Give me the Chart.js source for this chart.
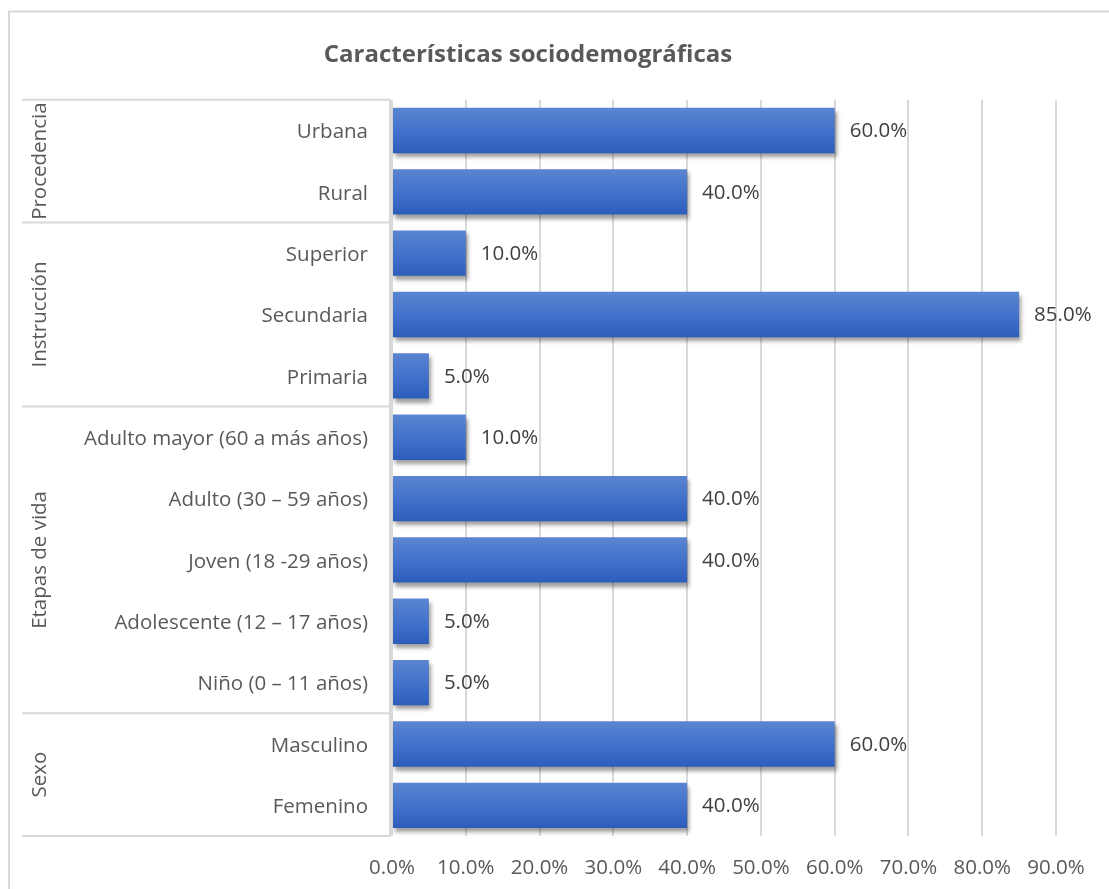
<!DOCTYPE html>
<html>
<head>
<meta charset="utf-8">
<script src="https://cdn.jsdelivr.net/npm/chart.js@4.4.1/dist/chart.umd.min.js"></script>
<style>
  html, body { margin: 0; padding: 0; background: #fff; }
  #wrap { width: 1109px; height: 889px; position: relative; }
</style>
</head>
<body>
<div id="wrap"><canvas id="myChart" width="1109" height="889"></canvas></div>
<script>
// categories, top to bottom
const categories = [
  'Urbana', 'Rural',
  'Superior', 'Secundaria', 'Primaria',
  'Adulto mayor (60 a más años)', 'Adulto (30 – 59 años)', 'Joven (18 -29 años)',
  'Adolescente (12 – 17 años)', 'Niño (0 – 11 años)',
  'Masculino', 'Femenino'
];
const percentages = [60, 40, 10, 85, 5, 10, 40, 40, 5, 5, 60, 40];

// group headings and how many categories each one spans
const groupNames = ['Procedencia', 'Instrucción', 'Etapas de vida', 'Sexo'];
const groupSizes = [2, 3, 5, 2];

const xMax = 90;
const xStep = 10;

const FONT = '"Open Sans", Lato, sans-serif';
const FONT_SIZE = 20.5;
const TEXT = '#595959';
const LINE = '#d9d9d9';
const BAR_PCT = 0.74;

// vertical gradient for each bar, from its own band position
const barGradient = (context) => {
  const chart = context.chart;
  const y = chart.scales && chart.scales.y;
  if (!y || !chart.chartArea) return '#4472c4';
  const band = y.height / categories.length;
  const mid = y.getPixelForValue(context.dataIndex);
  const g = chart.ctx.createLinearGradient(0, mid - band * BAR_PCT / 2, 0, mid + band * BAR_PCT / 2);
  g.addColorStop(0, '#5b85d1');
  g.addColorStop(0.5, '#4272cb');
  g.addColorStop(1, '#2c5dbb');
  return g;
};

// drop shadow under the bars
const barShadow = {
  id: 'barShadow',
  beforeDatasetsDraw(chart) {
    const ctx = chart.ctx;
    ctx.save();
    ctx.shadowColor = 'rgba(0,0,0,0.38)';
    ctx.shadowBlur = 4;
    ctx.shadowOffsetX = 2;
    ctx.shadowOffsetY = 4;
  },
  afterDatasetsDraw(chart) {
    chart.ctx.restore();
  }
};

// value labels to the right of each bar
const valueLabels = {
  id: 'valueLabels',
  afterDatasetsDraw(chart) {
    const ctx = chart.ctx;
    const meta = chart.getDatasetMeta(0);
    ctx.save();
    ctx.font = FONT_SIZE + 'px ' + FONT;
    ctx.fillStyle = '#404040';
    ctx.textAlign = 'left';
    ctx.textBaseline = 'middle';
    meta.data.forEach((bar, i) => {
      ctx.fillText(percentages[i].toFixed(1) + '%', bar.x + 15, bar.y + 1);
    });
    ctx.restore();
  }
};

// group column, separators, outer frame
const groupAxis = {
  id: 'groupAxis',
  afterDraw(chart) {
    const ctx = chart.ctx;
    const y = chart.scales.y;
    const area = chart.chartArea;
    const band = y.height / categories.length;
    const left = 22;
    const axisX = area.left - 2;

    ctx.save();
    ctx.strokeStyle = LINE;
    ctx.lineWidth = 2;

    // frame of the chart
    ctx.beginPath();
    ctx.moveTo(9, 900);
    ctx.lineTo(9, 11.5);
    ctx.lineTo(1120, 11.5);
    ctx.stroke();

    // axis line between labels and bars
    ctx.beginPath();
    ctx.moveTo(axisX, area.top);
    ctx.lineTo(axisX, area.bottom);
    ctx.stroke();

    let start = 0;
    const edge = (idx) => y.getPixelForValue(idx) - band / 2;
    ctx.beginPath();
    ctx.moveTo(left, edge(0));
    ctx.lineTo(axisX, edge(0));
    groupSizes.forEach((n) => {
      const yy = edge(start + n);
      ctx.moveTo(left, yy);
      ctx.lineTo(axisX, yy);
      start += n;
    });
    ctx.stroke();

    ctx.fillStyle = TEXT;
    ctx.font = FONT_SIZE + 'px ' + FONT;
    ctx.textAlign = 'center';
    ctx.textBaseline = 'middle';
    start = 0;
    groupSizes.forEach((n, gi) => {
      const mid = (edge(start) + edge(start + n)) / 2;
      ctx.save();
      ctx.translate(40, mid);
      ctx.rotate(-Math.PI / 2);
      ctx.fillText(groupNames[gi], 0, 0);
      ctx.restore();
      start += n;
    });
    ctx.restore();
  }
};

new Chart(document.getElementById('myChart'), {
  type: 'bar',
  data: {
    labels: categories,
    datasets: [{
      data: percentages,
      backgroundColor: barGradient,
      borderWidth: 0,
      barPercentage: BAR_PCT,
      categoryPercentage: 1
    }]
  },
  options: {
    indexAxis: 'y',
    responsive: false,
    animation: false,
    layout: { padding: { left: 0, right: 53, top: 0, bottom: 0 } },
    plugins: {
      legend: { display: false },
      tooltip: { enabled: false },
      title: {
        display: true,
        text: 'Características sociodemográficas',
        color: TEXT,
        font: { family: FONT, size: 24, weight: 'bold' },
        padding: { top: 41, bottom: 30 }
      }
    },
    scales: {
      x: {
        min: 0,
        max: xMax,
        ticks: {
          stepSize: xStep,
          color: TEXT,
          font: { family: FONT, size: FONT_SIZE },
          padding: 20,
          callback: (v) => Number(v).toFixed(1) + '%'
        },
        grid: { color: LINE, lineWidth: 2, drawTicks: false },
        border: { display: false },
        afterFit(scale) { scale.height = 53; }
      },
      y: {
        ticks: {
          color: TEXT,
          font: { family: FONT, size: FONT_SIZE },
          padding: 24,
          labelOffset: 2
        },
        grid: { display: false, drawTicks: false },
        border: { display: false },
        afterFit(scale) { scale.width = 392; }
      }
    }
  },
  plugins: [barShadow, valueLabels, groupAxis]
});
</script>
</body>
</html>
